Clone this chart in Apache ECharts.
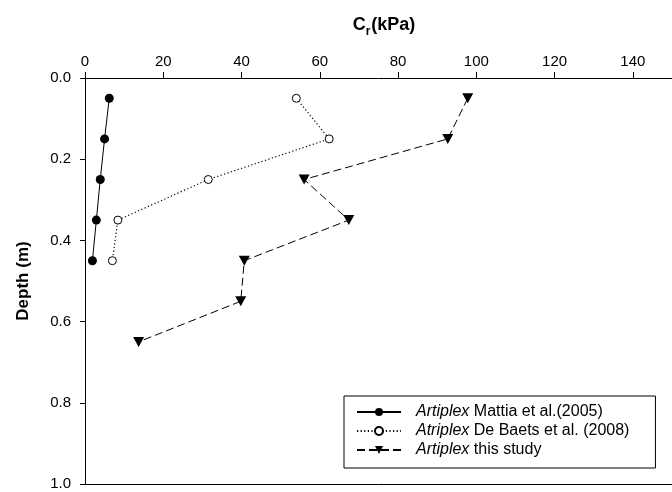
<!DOCTYPE html>
<html>
<head>
<meta charset="utf-8">
<script src="https://cdn.jsdelivr.net/npm/echarts@6/dist/echarts.min.js"></script>
<style>
  html, body { margin: 0; padding: 0; background: #fff; }
  #chart { width: 672px; height: 492px; }
</style>
</head>
<body>
<div id="chart"></div>
<script>
// Root cohesion Cr (kPa) against depth (m)
const depthLevels = [0.05, 0.15, 0.25, 0.35, 0.45];
const depthStudy = [0.05, 0.15, 0.25, 0.35, 0.45, 0.55, 0.65];
const mattia2005 = [6.2, 5.0, 3.9, 2.9, 1.9];
const deBaets2008 = [54.0, 62.4, 31.5, 8.4, 7.0];
const thisStudy = [97.8, 92.7, 56.0, 67.4, 40.7, 39.8, 13.7];
const crTicks = [0, 20, 40, 60, 80, 100, 120, 140];
const depthTicks = [0, 0.2, 0.4, 0.6, 0.8, 1.0];
const seriesNames = ['mattia', 'debaets', 'study'];
const legendLabels = {
  mattia: '{i|Artiplex} Mattia et al.(2005)',
  debaets: '{i|Atriplex} De Baets et al. (2008)',
  study: '{i|Artiplex} this study'
};

const FONT = '"Liberation Sans", Arial, Helvetica, sans-serif';
const INK = '#000';

function pairs(xs, ys) {
  return xs.map((v, i) => [v, ys[i]]);
}

const chart = echarts.init(document.getElementById('chart'), null, { renderer: 'canvas' });

chart.setOption({
  animation: false,
  backgroundColor: '#fff',
  textStyle: { fontFamily: FONT, color: INK },
  title: {
    text: '{b|C}{s|r}{b|(kPa)}',
    left: 384,
    top: 16,
    padding: 0,
    textAlign: 'center',
    textStyle: {
      fontFamily: FONT,
      rich: {
        b: { fontFamily: FONT, fontSize: 18, fontWeight: 'bold', color: INK, verticalAlign: 'top', lineHeight: 18 },
        s: { fontFamily: FONT, fontSize: 12, fontWeight: 'bold', color: INK, verticalAlign: 'top', lineHeight: 12, padding: [10, 1, 0, 0] }
      }
    }
  },
  grid: { left: 85, right: -11, top: 78, bottom: 8, containLabel: false },
  xAxis: [
    {
      type: 'value',
      position: 'top',
      min: 0,
      max: 150,
      interval: 20,
      axisLine: { show: true, lineStyle: { color: INK, width: 1 } },
      axisTick: { show: true, inside: false, length: 6, lineStyle: { color: INK }, customValues: crTicks },
      axisLabel: { show: true, margin: 9, fontSize: 15, color: INK, fontFamily: FONT, customValues: crTicks },
      splitLine: { show: false }
    },
    {
      type: 'value',
      position: 'bottom',
      min: 0,
      max: 150,
      axisLine: { show: true, onZero: false, lineStyle: { color: INK, width: 1 } },
      axisTick: { show: false },
      axisLabel: { show: false },
      splitLine: { show: false }
    }
  ],
  yAxis: {
    type: 'value',
    inverse: true,
    min: 0,
    max: 1,
    interval: 0.2,
    name: 'Depth (m)',
    nameLocation: 'middle',
    nameGap: 53,
    nameTextStyle: { fontFamily: FONT, fontSize: 17, fontWeight: 'bold', color: INK },
    axisLine: { show: true, lineStyle: { color: INK, width: 1 } },
    axisTick: { show: true, length: 5, lineStyle: { color: INK }, customValues: depthTicks },
    axisLabel: {
      margin: 14, fontSize: 15, color: INK, fontFamily: FONT,
      customValues: depthTicks,
      formatter: v => Number(v).toFixed(1)
    },
    splitLine: { show: false }
  },
  legend: {
    orient: 'vertical',
    left: 344,
    top: 396,
    padding: [8, 26, 10, 12],
    borderColor: INK,
    borderWidth: 1,
    backgroundColor: '#fff',
    itemWidth: 44,
    itemHeight: 10,
    itemGap: 3,
    data: seriesNames,
    formatter: name => legendLabels[name],
    textStyle: {
      fontFamily: FONT, fontSize: 16, color: INK,
      rich: {
        i: { fontFamily: FONT, fontSize: 16, fontStyle: 'italic', color: INK, padding: [0, 0, 0, 10] }
      }
    }
  },
  series: [
    {
      name: seriesNames[0],
      type: 'line',
      data: pairs(mattia2005, depthLevels),
      symbol: 'circle',
      symbolSize: 9,
      itemStyle: { color: INK, borderColor: INK, borderWidth: 0 },
      lineStyle: { color: INK, width: 1, type: 'solid' },
      z: 3
    },
    {
      name: seriesNames[1],
      type: 'line',
      data: pairs(deBaets2008, depthLevels),
      symbol: 'circle',
      symbolSize: 8,
      showAllSymbol: true,
      itemStyle: { color: '#fff', borderColor: INK, borderWidth: 1 },
      lineStyle: { color: INK, width: 1.2, type: [1.2, 2.4] },
      z: 3
    },
    {
      name: seriesNames[2],
      type: 'line',
      data: pairs(thisStudy, depthStudy),
      symbol: 'triangle',
      symbolRotate: 180,
      symbolSize: [11, 10],
      itemStyle: { color: INK, borderColor: INK, borderWidth: 0 },
      lineStyle: { color: INK, width: 1, type: [8, 4] },
      z: 3
    }
  ]
});
</script>
</body>
</html>
